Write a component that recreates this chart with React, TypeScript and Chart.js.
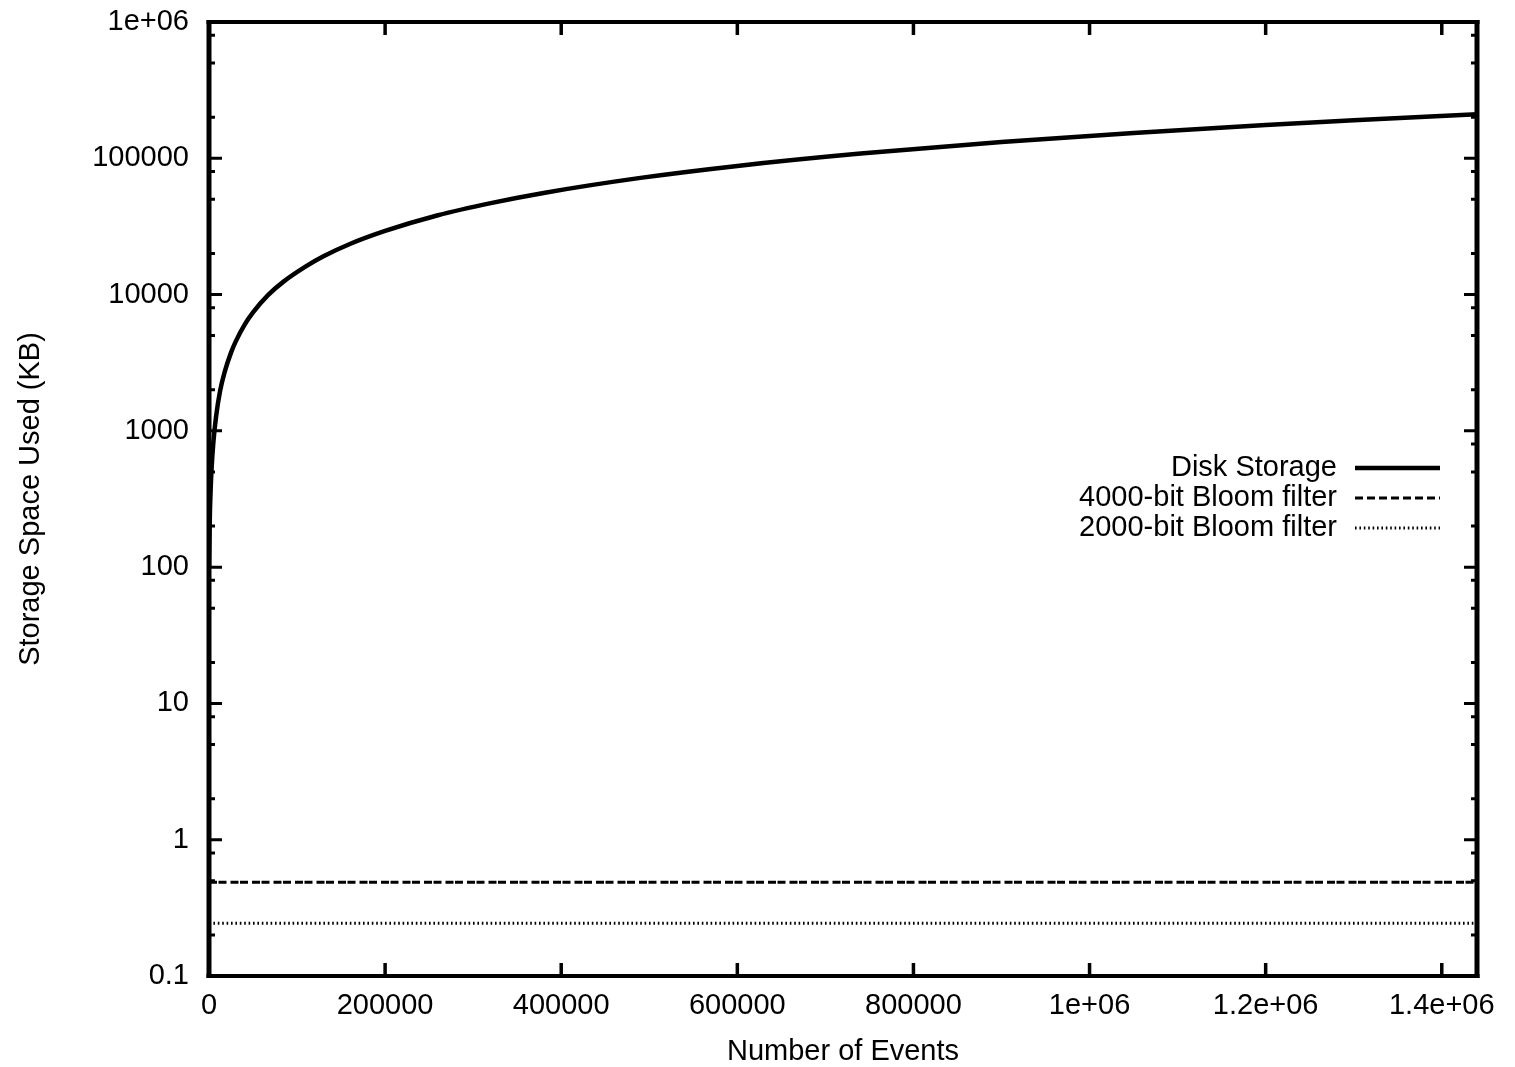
import React, { useEffect, useRef } from "react";
import { Chart, registerables } from "chart.js";

Chart.register(...registerables);

// ---- Data ----
const eventCounts = [
  0, 1000, 2000, 3000, 5000, 8000, 12500, 18000, 25000, 30000, 40000, 50000,
  67000, 85000, 110000, 130000, 160000, 200000, 260000, 320000, 380000, 490000,
  600000, 740000, 900000, 1050000, 1200000, 1300000, 1440000,
];
const diskStorageKB = [
  100, 245, 390, 540, 830, 1270, 1950, 2730, 3750, 4480, 5950, 7400,
  9900, 12500, 16100, 19100, 23500, 29300, 38200, 46900, 55700, 71800,
  87900, 108300, 131600, 153500, 175400, 190000, 210500,
];
const bloomEvents = [0, 1440000];
const bloom4000KB = [0.488, 0.488];
const bloom2000KB = [0.244, 0.244];

const seriesNames = ["Disk Storage", "4000-bit Bloom filter", "2000-bit Bloom filter"];

const xTickValues = [0, 200000, 400000, 600000, 800000, 1000000, 1200000, 1400000];
const xTickLabels = ["0", "200000", "400000", "600000", "800000", "1e+06", "1.2e+06", "1.4e+06"];
const yTickValues = [0.1, 1, 10, 100, 1000, 10000, 100000, 1000000];
const yTickLabels = ["0.1", "1", "10", "100", "1000", "10000", "100000", "1e+06"];
const yMinorMultipliers = [2, 5, 8];

const xTitle = "Number of Events";
const yTitle = "Storage Space Used (KB)";

const FONT = '"Liberation Sans", Arial, Helvetica, sans-serif';
const FONT_SIZE = 29;

const frameAndLegend = {
  id: "frameAndLegend",
  afterDraw(chart: any) {
    const { ctx, chartArea } = chart;
    const { left, right, top, bottom } = chartArea;
    const xs = chart.scales.x;
    const ys = chart.scales.y;
    ctx.save();
    ctx.strokeStyle = "#000";
    ctx.lineCap = "butt";
    ctx.setLineDash([]);

    // x major ticks (bottom & top, inward)
    ctx.lineWidth = 3.5;
    for (const v of xTickValues) {
      const px = xs.getPixelForValue(v);
      ctx.beginPath();
      ctx.moveTo(px, bottom);
      ctx.lineTo(px, bottom - 13);
      ctx.moveTo(px, top);
      ctx.lineTo(px, top + 13);
      ctx.stroke();
    }
    // y major & minor ticks (left & right, inward)
    ctx.lineWidth = 3;
    for (const v of yTickValues) {
      const py = ys.getPixelForValue(v);
      ctx.beginPath();
      ctx.moveTo(left, py);
      ctx.lineTo(left + 13, py);
      ctx.moveTo(right, py);
      ctx.lineTo(right - 13, py);
      ctx.stroke();
      for (const m of yMinorMultipliers) {
        const mv = v * m;
        if (mv >= 1000000) continue;
        const mpy = ys.getPixelForValue(mv);
        ctx.beginPath();
        ctx.moveTo(left, mpy);
        ctx.lineTo(left + 6, mpy);
        ctx.moveTo(right, mpy);
        ctx.lineTo(right - 6, mpy);
        ctx.stroke();
      }
    }

    // frame
    ctx.lineWidth = 4;
    ctx.beginPath();
    ctx.moveTo(left - 2.5, top);
    ctx.lineTo(right + 2.5, top);
    ctx.moveTo(left - 2.5, bottom);
    ctx.lineTo(right + 2.5, bottom);
    ctx.stroke();
    ctx.lineWidth = 5;
    ctx.beginPath();
    ctx.moveTo(left, top - 2);
    ctx.lineTo(left, bottom + 2);
    ctx.moveTo(right, top - 2);
    ctx.lineTo(right, bottom + 2);
    ctx.stroke();

    // axis titles
    ctx.fillStyle = "#000";
    ctx.font = `${FONT_SIZE}px ${FONT}`;
    ctx.textAlign = "center";
    ctx.textBaseline = "middle";
    ctx.fillText(xTitle, 843, 1052);
    ctx.save();
    ctx.translate(31, 499);
    ctx.rotate(-Math.PI / 2);
    ctx.fillText(yTitle, 0, 0);
    ctx.restore();

    // legend (gnuplot style: right-aligned text, line sample to the right)
    const rowY = [468, 498, 528];
    chart.data.datasets.forEach((ds: any, i: number) => {
      const y = rowY[i];
      ctx.textAlign = "right";
      ctx.fillText(ds.label, 1337, y);
      ctx.beginPath();
      ctx.lineWidth = ds.borderWidth;
      ctx.setLineDash(ds.legendDash || []);
      ctx.moveTo(1355, y);
      ctx.lineTo(1440, y);
      ctx.stroke();
    });
    ctx.restore();
  },
};

export default function App() {
  const canvasRef = useRef<HTMLCanvasElement | null>(null);

  useEffect(() => {
    if (!canvasRef.current) return;
    const chart = new Chart(canvasRef.current, {
      type: "line",
      data: {
        datasets: [
          {
            label: seriesNames[0],
            data: eventCounts.map((x, i) => ({ x, y: diskStorageKB[i] })),
            borderColor: "#000",
            borderWidth: 4.5,
            pointRadius: 0,
            cubicInterpolationMode: "monotone",
            fill: false,
          } as any,
          {
            label: seriesNames[1],
            data: bloomEvents.map((x, i) => ({ x, y: bloom4000KB[i] })),
            borderColor: "#000",
            borderWidth: 3,
            borderDash: [8, 1.5, 8, 4],
            legendDash: [8, 4],
            pointRadius: 0,
            fill: false,
          } as any,
          {
            label: seriesNames[2],
            data: bloomEvents.map((x, i) => ({ x, y: bloom2000KB[i] })),
            borderColor: "#000",
            borderWidth: 3,
            borderDash: [1.6, 2.8],
            legendDash: [1.6, 2.8],
            pointRadius: 0,
            fill: false,
          } as any,
        ],
      },
      options: {
        responsive: false,
        animation: false,
        devicePixelRatio: 1,
        parsing: false as any,
        layout: { padding: { left: 0, top: 22, right: 38, bottom: 0 } },
        plugins: {
          legend: { display: false },
          tooltip: { enabled: false },
        },
        scales: {
          x: {
            type: "linear",
            position: "bottom",
            min: 0,
            max: 1440000,
            grid: { display: false, drawTicks: false },
            border: { display: false },
            ticks: {
              autoSkip: false,
              maxRotation: 0,
              padding: 13,
              color: "#000",
              font: { family: FONT, size: FONT_SIZE },
              callback: (v: any) => {
                const i = xTickValues.indexOf(Number(v));
                return i >= 0 ? xTickLabels[i] : "";
              },
            },
            afterBuildTicks: (s: any) => {
              s.ticks = xTickValues.map((value) => ({ value }));
            },
            afterFit: (s: any) => {
              s.height = 91;
              s.paddingLeft = 0;
              s.paddingRight = 0;
              s.paddingTop = 0;
              s.paddingBottom = 0;
            },
          },
          y: {
            type: "logarithmic",
            position: "left",
            min: 0.1,
            max: 1000000,
            grid: { display: false, drawTicks: false },
            border: { display: false },
            ticks: {
              autoSkip: false,
              padding: 20,
              color: "#000",
              font: { family: FONT, size: FONT_SIZE },
              callback: (v: any) => {
                const i = yTickValues.findIndex((t) => Math.abs(t - Number(v)) / t < 1e-6);
                return i >= 0 ? yTickLabels[i] : "";
              },
            },
            afterBuildTicks: (s: any) => {
              s.ticks = yTickValues.map((value) => ({ value }));
            },
            afterFit: (s: any) => {
              s.width = 209;
              s.paddingLeft = 0;
              s.paddingRight = 0;
              s.paddingTop = 0;
              s.paddingBottom = 0;
            },
          },
        },
      },
      plugins: [frameAndLegend],
    });
    return () => chart.destroy();
  }, []);

  return (
    <div style={{ position: "absolute", left: 0, top: 0, width: 1515, height: 1067, background: "#fff" }}>
      <canvas ref={canvasRef} width={1515} height={1067} style={{ display: "block" }} />
    </div>
  );
}
